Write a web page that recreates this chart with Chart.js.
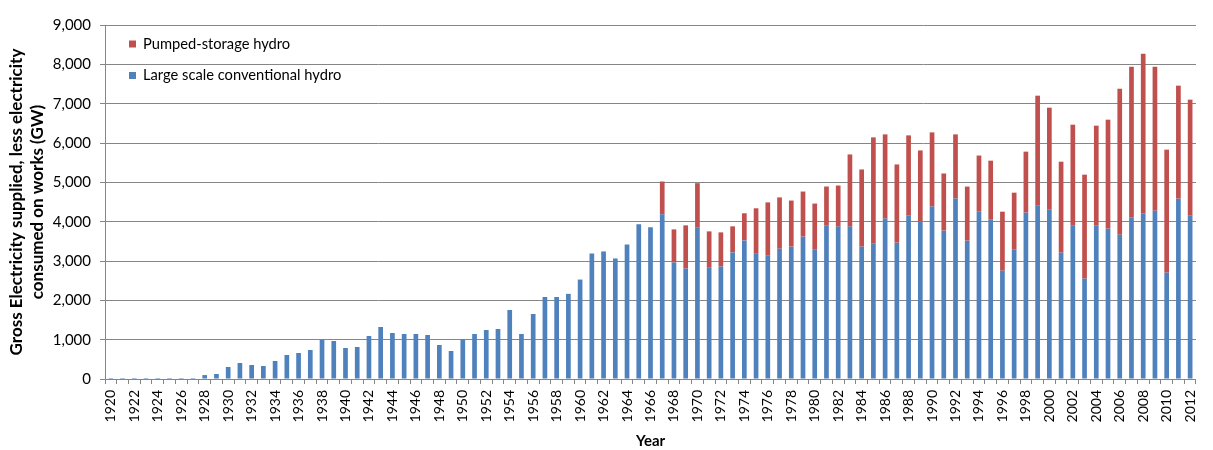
<!DOCTYPE html>
<html>
<head>
<meta charset="utf-8">
<script src="https://cdn.jsdelivr.net/npm/chart.js@4/dist/chart.umd.min.js"></script>
<style>
  html, body { margin: 0; padding: 0; background: #fff; }
  #wrap { width: 1213px; height: 450px; position: relative; }
</style>
</head>
<body>
<div id="wrap"><canvas id="hydroChart" width="1213" height="450"></canvas></div>
<script>
// Data
const years = [];
for (let y = 1920; y <= 2012; y++) years.push(String(y));

const conventional = [
  25, 25, 25, 25, 25, 25, 25, 25, 100, 127,            // 1920-1929
  305, 407, 356, 330, 458, 610, 661, 737, 1000, 966,   // 1930-1939
  788, 814, 1093, 1322, 1169, 1144, 1144, 1119, 864, 712, // 1940-1949
  1008, 1144, 1246, 1271, 1754, 1144, 1653, 2085, 2085, 2165, // 1950-1959
  2528, 3191, 3243, 3064, 3421, 3932, 3855, 4187, 2962, 2809, // 1960-1969
  3855, 2843, 2860, 3217, 3523, 3200, 3147, 3312, 3365, 3619, // 1970-1979
  3297, 3908, 3874, 3874, 3364, 3449, 4078, 3466, 4163, 4010, // 1980-1989
  4384, 3772, 4588, 3517, 4264, 4059, 2754, 3297, 4229, 4415, // 1990-1999
  4314, 3212, 3907, 2551, 3907, 3822, 3669, 4110, 4212, 4280, // 2000-2009
  2703, 4585, 4161                                      // 2010-2012
];

const totals = [
  25, 25, 25, 25, 25, 25, 25, 25, 100, 127,
  305, 407, 356, 330, 458, 610, 661, 737, 1000, 966,
  788, 814, 1093, 1322, 1169, 1144, 1144, 1119, 864, 712,
  1008, 1144, 1246, 1271, 1754, 1144, 1653, 2085, 2085, 2165,
  2528, 3191, 3243, 3064, 3421, 3932, 3855, 5021, 3804, 3906,
  4979, 3753, 3728, 3881, 4213, 4340, 4490, 4617, 4537, 4766,
  4460, 4894, 4919, 5709, 5327, 6143, 6219, 5455, 6194, 5811,
  6270, 5225, 6219, 4892, 5681, 5551, 4254, 4737, 5780, 7203,
  6898, 5525, 6466, 5195, 6441, 6593, 7381, 7941, 8271, 7941,
  5831, 7458, 7102
];

const pumped = totals.map((t, i) => t - conventional[i]);

const yTicks = [0, 1000, 2000, 3000, 4000, 5000, 6000, 7000, 8000, 9000];

const BLUE = '#4F81BD';
const RED = '#C0504D';
const GRID = '#868686';
const FONT = 'Lato, "Liberation Sans", sans-serif';

// Legend drawn inside the plot area, top-left
const insideLegend = {
  id: 'insideLegend',
  afterDraw(chart) {
    const { ctx, chartArea } = chart;
    const items = [chart.data.datasets[1], chart.data.datasets[0]];
    ctx.save();
    ctx.font = '14.7px ' + FONT;
    ctx.textBaseline = 'middle';
    items.forEach((ds, i) => {
      const y = chartArea.top + 19 + i * 31.5;
      const x = chartArea.left + 24;
      ctx.fillStyle = ds.backgroundColor;
      ctx.fillRect(x, y - 3.5, 7, 7);
      ctx.fillStyle = '#000';
      ctx.fillText(ds.label, x + 14, y);
    });
    ctx.restore();
  }
};

const ctx = document.getElementById('hydroChart').getContext('2d');
new Chart(ctx, {
  type: 'bar',
  data: {
    labels: years,
    datasets: [
      {
        label: 'Large scale conventional hydro',
        data: conventional,
        backgroundColor: BLUE,
        barPercentage: 0.4,
        categoryPercentage: 1.0
      },
      {
        label: 'Pumped-storage hydro',
        data: pumped,
        backgroundColor: RED,
        barPercentage: 0.4,
        categoryPercentage: 1.0
      }
    ]
  },
  options: {
    responsive: false,
    animation: false,
    layout: { padding: { left: 0, right: 13, top: 25, bottom: 0 } },
    plugins: {
      legend: { display: false },
      tooltip: { enabled: false }
    },
    scales: {
      x: {
        stacked: true,
        offset: true,
        grid: {
          display: true,
          drawOnChartArea: false,
          color: GRID,
          tickLength: 5,
          offset: true
        },
        border: { color: GRID },
        ticks: {
          autoSkip: false,
          minRotation: 90,
          maxRotation: 90,
          padding: 6,
          color: '#000',
          font: { family: FONT, size: 14 },
          callback: (val, i) => (i % 2 === 0 ? years[i] : '')
        },
        title: {
          display: true,
          text: 'Year',
          color: '#000',
          font: { family: FONT, size: 15, weight: 'bold' },
          padding: { top: 0, bottom: 0 }
        },
        afterFit: (axis) => { axis.height = 71; }
      },
      y: {
        stacked: true,
        min: 0,
        max: 9000,
        grid: { color: GRID, tickLength: 5 },
        border: { color: GRID },
        afterBuildTicks: (axis) => { axis.ticks = yTicks.map(v => ({ value: v })); },
        ticks: {
          color: '#000',
          padding: 9,
          font: { family: FONT, size: 15 },
          callback: (v) => v.toLocaleString('en-US')
        },
        title: {
          display: true,
          text: ['Gross Electricity supplied, less electricity', 'consumed on works (GW)'],
          color: '#000',
          font: { family: FONT, size: 17, weight: 'bold', lineHeight: 1.25 },
          padding: { top: 6, bottom: 4 }
        },
        afterFit: (axis) => { axis.width = 105; }
      }
    }
  },
  plugins: [insideLegend]
});
</script>
</body>
</html>
